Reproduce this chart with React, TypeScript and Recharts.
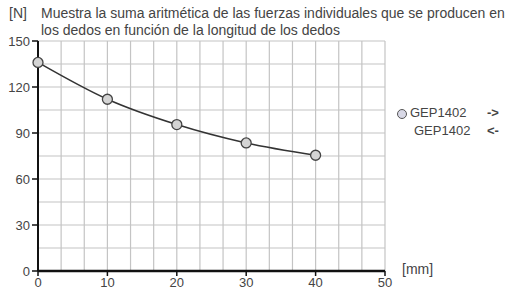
import * as React from 'react'
import {
  LineChart,
  Line,
  XAxis,
  YAxis,
  ReferenceLine,
} from 'recharts'

// finger length [mm] vs summed gripping force [N]
const lengths = [0, 10, 20, 30, 40]
const forces = [136, 112, 95.5, 83.5, 75.5]
const xTicks = [0, 10, 20, 30, 40, 50]
const yTicks = [0, 30, 60, 90, 120, 150]
const seriesName = 'GEP1402'
const legendRows = [
  { label: 'GEP1402', arrow: '->', marker: true },
  { label: 'GEP1402', arrow: '<-', marker: false },
]
const titleLines = [
  'Muestra la suma aritmética de las fuerzas individuales que se producen en',
  'los dedos en función de la longitud de los dedos',
]

const FONT = '"Liberation Sans", Arial, Helvetica, sans-serif'
const TEXT = '#444'
const GRID = '#c4c4c4'

// grid is finer than the ticks: 15 columns, 10 rows
const gridX = Array.from({ length: 15 }, (_, i) => ((i + 1) * 50) / 15)
const gridY = Array.from({ length: 10 }, (_, i) => (i + 1) * 15)

const data = lengths.map((l, i) => ({ length: l, force: forces[i] }))

const LegendBox = () => (
  <div style={{ position: 'absolute', left: 397, top: 104, width: 110, fontFamily: FONT, fontSize: 13, color: TEXT }}>
    {legendRows.map((r, i) => (
      <div key={i} style={{ position: 'relative', height: 18, lineHeight: '18px' }}>
        {r.marker && (
          <span
            style={{
              position: 'absolute',
              left: 0,
              top: 5,
              width: 8,
              height: 8,
              borderRadius: '50%',
              background: '#d8d8e6',
              border: '1.3px solid #555',
            }}
          />
        )}
        <span style={{ position: 'absolute', left: r.marker ? 13 : 17 }}>{r.label}</span>
        <span style={{ position: 'absolute', left: 90, fontWeight: 'bold' }}>{r.arrow}</span>
      </div>
    ))}
  </div>
)

export default function App() {
  return (
    <div style={{ position: 'absolute', left: 0, top: 0, width: 505, height: 293, background: '#fff', overflow: 'hidden' }}>
      <div style={{ position: 'absolute', left: 9, top: 5, fontFamily: FONT, fontSize: 14, color: TEXT, lineHeight: '17px' }}>
        [N]
      </div>
      <div style={{ position: 'absolute', left: 41, top: 5, fontFamily: FONT, fontSize: 14, color: TEXT, lineHeight: '17px', whiteSpace: 'nowrap' }}>
        {titleLines.map((t) => (
          <div key={t}>{t}</div>
        ))}
      </div>
      <div style={{ position: 'absolute', left: 402, top: 261, fontFamily: FONT, fontSize: 14, color: TEXT }}>
        [mm]
      </div>
      <LegendBox />
      <div style={{ position: 'absolute', left: 0, top: 0 }}>
        <LineChart
          width={505}
          height={293}
          data={data}
          margin={{ top: 41, right: 120, bottom: 2, left: 0 }}
        >
          <XAxis
            dataKey="length"
            type="number"
            domain={[0, 50]}
            ticks={xTicks}
            height={20}
            tickSize={5}
            axisLine={{ stroke: '#111', strokeWidth: 2.5 }}
            tickLine={{ stroke: '#111', strokeWidth: 1.5 }}
            tick={{ fill: TEXT, fontSize: 13, fontFamily: FONT }}
          />
          <YAxis
            type="number"
            domain={[0, 150]}
            ticks={yTicks}
            width={38}
            tickSize={6}
            axisLine={{ stroke: '#111', strokeWidth: 2 }}
            tickLine={{ stroke: '#111', strokeWidth: 1.5 }}
            tick={{ fill: TEXT, fontSize: 13, fontFamily: FONT }}
          />
          {gridX.map((v) => (
            <ReferenceLine key={`gx${v}`} x={v} stroke={GRID} strokeWidth={1.2} />
          ))}
          {gridY.map((v) => (
            <ReferenceLine key={`gy${v}`} y={v} stroke={GRID} strokeWidth={1.2} />
          ))}
          <Line
            name={seriesName}
            type="monotone"
            dataKey="force"
            stroke="#333"
            strokeWidth={1.5}
            dot={{ r: 5, fill: '#d4d4d4', stroke: '#444', strokeWidth: 1.3 }}
            isAnimationActive={false}
          />
        </LineChart>
      </div>
    </div>
  )
}
